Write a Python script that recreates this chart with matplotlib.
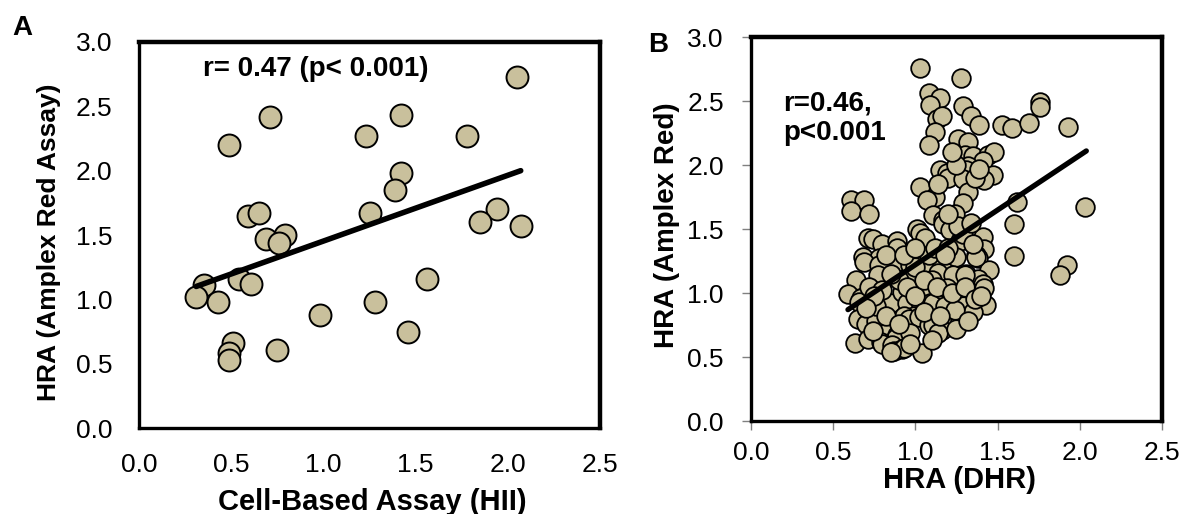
import matplotlib
matplotlib.use("Agg")
import matplotlib.pyplot as plt

plt.rcParams["font.family"] = ["Liberation Sans", "DejaVu Sans"]

# Panel A: cell-based assay (HII) vs Amplex Red assay
hii_x = [2.05, 0.71, 1.42, 0.49, 1.23, 1.78, 1.42, 1.39, 1.25, 0.59,
         0.65, 1.94, 1.85, 2.07, 0.69, 0.79, 0.76, 0.35, 0.31, 0.43,
         0.54, 0.61, 1.56, 1.28, 0.98, 1.46, 0.51, 0.49, 0.49, 0.75]
amplex_a = [2.73, 2.42, 2.43, 2.20, 2.27, 2.27, 1.98, 1.85, 1.67, 1.65,
            1.67, 1.70, 1.60, 1.57, 1.47, 1.50, 1.44, 1.11, 1.02, 0.98,
            1.16, 1.12, 1.16, 0.98, 0.88, 0.75, 0.66, 0.58, 0.53, 0.61]
fit_a_x = [0.31, 2.07]
fit_a_y = [1.10, 2.00]

# Panel B: HRA (DHR) vs HRA (Amplex Red)
dhr_x = [1.03, 1.28, 1.08, 1.15, 1.09, 1.29, 1.34, 1.39, 1.13, 1.16,
         1.12, 1.76, 1.76, 1.53, 1.59, 1.69, 1.93, 1.08, 1.26, 1.32,
         1.30, 1.35, 1.44, 1.48, 1.41, 1.32, 1.15, 1.19, 1.20, 1.31,
         1.29, 1.47, 1.42, 1.32, 1.03, 1.12, 1.07, 1.29, 1.24, 1.11,
         1.17, 1.17, 1.62, 2.03, 1.60, 1.60, 1.92, 1.88, 0.61, 0.69,
         0.61, 0.72, 1.01, 1.03, 1.06, 1.21, 1.27, 1.29, 1.41, 1.42,
         1.37, 1.38, 1.45, 0.71, 0.74, 0.80, 0.89, 0.89, 0.68, 0.78,
         0.69, 0.78, 0.77, 0.64, 0.89, 0.97, 1.05, 1.16, 1.25, 1.37,
         1.31, 1.38, 1.41, 0.99, 1.14, 1.23, 1.30, 0.59, 0.67, 0.66,
         0.65, 0.70, 0.76, 0.84, 0.85, 0.92, 0.95, 1.03, 1.07, 1.09,
         1.11, 1.17, 1.19, 1.25, 1.33, 1.42, 1.43, 1.29, 1.18, 0.99,
         0.93, 0.96, 1.02, 1.08, 1.11, 1.21, 1.27, 1.16, 1.14, 0.84,
         0.89, 0.88, 0.97, 0.63, 0.71, 0.79, 0.80, 0.86, 0.87, 0.92,
         0.93, 0.85, 1.04, 0.90, 0.95, 1.00, 1.08, 1.12, 1.20, 1.35,
         1.10, 0.72, 0.80, 1.00, 1.35, 1.24, 0.76, 0.82, 0.85, 0.93,
         1.00, 1.05, 1.13, 1.22, 1.30, 1.36, 1.40, 0.75, 0.70, 0.82,
         0.90, 1.05, 1.15, 1.25, 1.32, 0.97, 1.10, 0.74, 1.18, 1.26,
         1.34, 1.20, 1.14, 1.25, 1.36, 1.39, 1.22]
amplex_b = [2.76, 2.68, 2.56, 2.52, 2.47, 2.46, 2.38, 2.31, 2.36, 2.38,
            2.26, 2.49, 2.45, 2.31, 2.29, 2.33, 2.30, 2.16, 2.20, 2.18,
            2.08, 2.07, 2.08, 2.10, 2.03, 1.99, 1.96, 1.94, 1.90, 1.96,
            1.89, 1.92, 1.88, 1.79, 1.83, 1.75, 1.73, 1.70, 1.62, 1.61,
            1.57, 1.54, 1.71, 1.67, 1.54, 1.29, 1.22, 1.14, 1.73, 1.73,
            1.64, 1.62, 1.50, 1.47, 1.43, 1.49, 1.41, 1.46, 1.44, 1.34,
            1.30, 1.27, 1.18, 1.43, 1.42, 1.38, 1.41, 1.35, 1.28, 1.27,
            1.24, 1.22, 1.14, 1.10, 1.24, 1.22, 1.23, 1.21, 1.28, 1.28,
            1.15, 1.11, 1.07, 1.14, 1.16, 1.14, 1.14, 0.99, 0.96, 0.93,
            0.80, 0.76, 0.78, 0.72, 0.92, 1.01, 0.92, 0.93, 1.05, 0.92,
            0.92, 1.02, 1.04, 0.98, 1.01, 1.04, 0.91, 0.90, 0.90, 0.82,
            0.82, 0.80, 0.81, 0.75, 0.75, 0.74, 0.79, 0.71, 0.69, 0.71,
            0.67, 0.65, 0.69, 0.61, 0.64, 0.62, 0.60, 0.59, 0.55, 0.56,
            0.57, 0.54, 0.53, 1.10, 1.05, 1.20, 1.30, 1.35, 1.35, 1.38,
            1.10, 1.05, 1.02, 0.98, 0.85, 0.87, 0.90, 1.30, 1.15, 1.30,
            1.35, 1.10, 1.05, 1.00, 1.05, 0.95, 0.98, 0.98, 0.88, 0.82,
            0.76, 0.85, 0.82, 0.72, 0.78, 0.60, 0.63, 0.70, 1.30, 1.52,
            1.55, 1.62, 1.85, 2.00, 1.90, 1.97, 2.10]
fit_b_x = [0.59, 2.04]
fit_b_y = [0.87, 2.11]

ticks = [0.0, 0.5, 1.0, 1.5, 2.0, 2.5, 3.0]
face = "#C9C09C"

fig = plt.figure(figsize=(11.83, 5.14), dpi=100)
axA = fig.add_axes([0.1175, 0.1673, 0.3897, 0.751])
axB = fig.add_axes([0.6348, 0.1809, 0.3474, 0.7471])

# ---- panel A
axA.scatter(hii_x, amplex_a, s=250, facecolor=face, edgecolor="black",
            linewidth=1.4, zorder=2)
axA.plot(fit_a_x, fit_a_y, color="black", linewidth=4.0, zorder=3,
         solid_capstyle="round")
axA.set_xlim(0, 2.5)
axA.set_ylim(0, 3.0)
axA.set_xticks(ticks[:6])
axA.set_yticks(ticks)
axA.set_xticklabels([f"{t:.1f}" for t in ticks[:6]])
axA.set_yticklabels([f"{t:.1f}" for t in ticks])
axA.tick_params(length=0, labelsize=19)
axA.tick_params(axis="x", pad=18)
axA.tick_params(axis="y", pad=19)
axA.text(0.345, 2.79, "r= 0.47 (p< 0.001)", fontsize=20, fontweight="bold",
         ha="left", va="center")

# ---- panel B
axB.scatter(dhr_x, amplex_b, s=180, facecolor=face, edgecolor="black",
            linewidth=1.3, zorder=2)
axB.plot(fit_b_x, fit_b_y, color="black", linewidth=3.8, zorder=3,
         solid_capstyle="round")
axB.set_xlim(0, 2.5)
axB.set_ylim(0, 3.0)
axB.set_xticks(ticks[:6])
axB.set_yticks(ticks)
axB.set_xticklabels([f"{t:.1f}" for t in ticks[:6]])
axB.set_yticklabels([f"{t:.1f}" for t in ticks])
axB.tick_params(length=6.5, width=1, color="#808080", labelsize=19)
axB.tick_params(axis="x", pad=8)
axB.tick_params(axis="y", pad=13)
axB.text(0.195, 2.58, "r=0.46,\np<0.001", fontsize=20, fontweight="bold",
         ha="left", va="top", linespacing=1.15)

for ax in (axA, axB):
    for side in ("top", "right"):
        ax.spines[side].set_linewidth(3.2)
    for side in ("left", "bottom"):
        ax.spines[side].set_linewidth(2.4)
    for sp in ax.spines.values():
        sp.set_color("black")

# axis titles and panel letters
fig.text(0.3145, 0.023, "Cell-Based Assay (HII)", fontsize=21, fontweight="bold",
         ha="center", va="center")
fig.text(0.0414, 0.529, "HRA (Amplex Red Assay)", fontsize=19, fontweight="bold",
         ha="center", va="center", rotation=90)
fig.text(0.8107, 0.066, "HRA (DHR)", fontsize=21, fontweight="bold",
         ha="center", va="center")
fig.text(0.5638, 0.562, "HRA (Amplex Red)", fontsize=20, fontweight="bold",
         ha="center", va="center", rotation=90)
fig.text(0.0186, 0.945, "A", fontsize=20, fontweight="bold", ha="center", va="center")
fig.text(0.5562, 0.912, "B", fontsize=20, fontweight="bold", ha="center", va="center")

fig.savefig("out.png", dpi=100)
